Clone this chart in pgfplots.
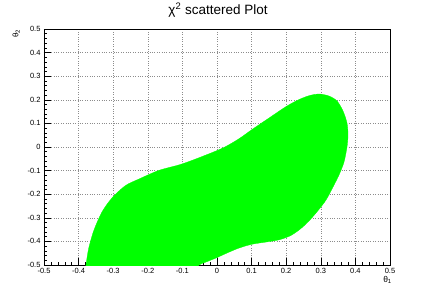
\documentclass[border=0pt]{standalone}
\usepackage{pgfplots}
\pgfplotsset{compat=1.18}
\usepackage{fontspec}
\setmainfont{Liberation Sans}
\begin{document}
\begin{tikzpicture}
\begin{axis}[
  at={(0,0)}, anchor=south west,
  scale only axis, width=346pt, height=236pt,
  xmin=-0.5, xmax=0.5, ymin=-0.5, ymax=0.5,
  xtick={-0.5,-0.4,-0.3,-0.2,-0.1,0,0.1,0.2,0.3,0.4,0.5},
  ytick={-0.5,-0.4,-0.3,-0.2,-0.1,0,0.1,0.2,0.3,0.4,0.5},
  xticklabels={-0.5,-0.4,-0.3,-0.2,-0.1,0,0.1,0.2,0.3,0.4,0.5},
  yticklabels={-0.5,-0.4,-0.3,-0.2,-0.1,0,0.1,0.2,0.3,0.4,0.5},
  minor tick num=4,
  tick pos=left, tick align=inside,
  major tick length=7pt, minor tick length=3.5pt,
  tick style={black, line width=0.5pt},
  grid=major, major grid style={dotted, black!45, line width=0.5pt},
  ticklabel style={font=\fontsize{7.5}{9}\selectfont},
  axis line style={black, line width=0.6pt},
]
\addplot[fill=green, draw=green, line width=0.3pt, smooth, tension=0.5] coordinates {
(-0.381,-0.53)
(-0.3786,-0.5)
(-0.3757,-0.4703)
(-0.3699,-0.4237)
(-0.3555,-0.3517)
(-0.3324,-0.2754)
(-0.3035,-0.2161)
(-0.2650,-0.1640)
(-0.2254,-0.1356)
(-0.1676,-0.0990)
(-0.1012,-0.0720)
(-0.0318,-0.0339)
(0.0200,-0.0020)
(0.0636,0.0350)
(0.1012,0.0740)
(0.1590,0.1314)
(0.2023,0.1737)
(0.2400,0.2030)
(0.2700,0.2190)
(0.2948,0.2246)
(0.3237,0.2161)
(0.3468,0.1949)
(0.3642,0.1525)
(0.3757,0.1017)
(0.3786,0.0508)
(0.3757,0)
(0.3671,-0.0636)
(0.3526,-0.1186)
(0.3382,-0.1610)
(0.3150,-0.2246)
(0.2861,-0.2797)
(0.2601,-0.3220)
(0.2370,-0.3517)
(0.2120,-0.3760)
(0.1800,-0.3930)
(0.1450,-0.4020)
(0.1012,-0.4120)
(0.0636,-0.4280)
(0.0289,-0.4492)
(-0.0029,-0.4703)
(-0.0318,-0.4873)
(-0.0520,-0.5)
(-0.0650,-0.53)
} -- cycle;
\end{axis}
\node[anchor=base, inner sep=0pt, font=\fontsize{13.5}{15}\selectfont] at (174pt,250pt) {χ\textsuperscript{2} scattered Plot};
\node[rotate=90, anchor=south east, inner sep=0pt, font=\fontsize{8}{10}\selectfont] at (-24pt,236pt) {θ\textsubscript{2}};
\node[anchor=north east, inner sep=0pt, font=\fontsize{8.5}{10}\selectfont] at (348pt,-11pt) {θ\textsubscript{1}};
\pgfresetboundingbox
\path[use as bounding box] (-44pt,-30pt) rectangle (392pt,265pt);
\end{tikzpicture}
\end{document}
